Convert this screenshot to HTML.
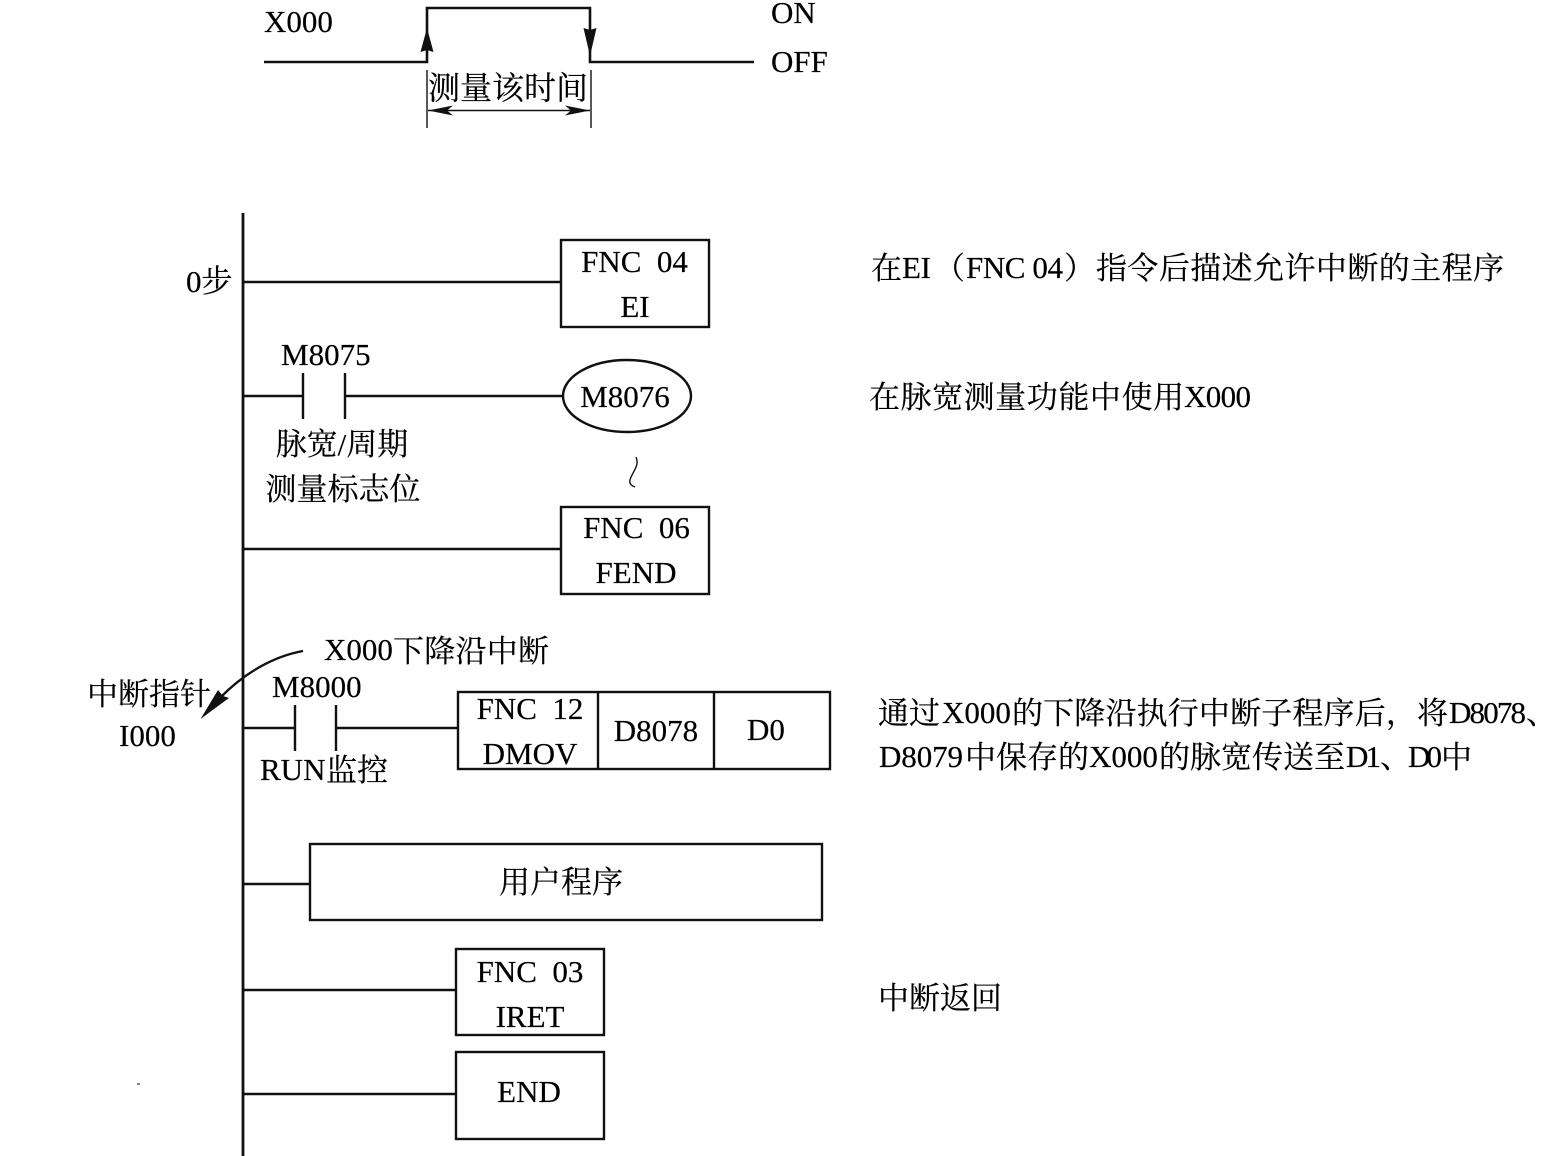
<!DOCTYPE html>
<html><head><meta charset="utf-8"><style>
html,body{margin:0;padding:0;background:#fff;width:1542px;height:1156px;overflow:hidden}
svg{display:block}
text{font-family:"Liberation Serif","Noto Serif CJK SC",serif;font-size:31px;fill:#000;stroke:#000;stroke-width:.2}
.m{text-anchor:middle}
line,rect,path,ellipse{stroke:#111;fill:none;stroke-width:2.4}
.f{fill:#111;stroke:none}
.t{stroke-width:1.4}
</style></head><body>
<svg width="1542" height="1156" viewBox="0 0 1542 1156">
<path d="M264 62H427V8H590V62H754" style="stroke-width:2.6"/>
<path class="f" d="M427 28L433.500 52L427 50L420.500 52Z M590 56L583.500 28L590 30L596.500 28Z"/>
<path class="t" d="M427 70V128M591 70V128M428 110.500H590"/>
<path class="f" d="M428 110.500L453 105.500L447 110.500L453 115.500Z M590 110.500L565 105.500L571 110.500L565 115.500Z"/>
<text x="264" y="32">X000</text>
<text x="771" y="23">ON</text>
<text x="771" y="72">OFF</text>
<text x="508" y="99" class="m" style="font-size:32px">测量该时间</text>

<line x1="243" y1="213" x2="243" y2="1156" style="stroke-width:2.8"/>
<text x="186" y="292">0步</text>
<line x1="243" y1="282" x2="561" y2="282"/>
<rect x="561" y="240" width="148" height="87"/>
<text x="634.500" y="272" class="m">FNC&#160;&#160;04</text>
<text x="635" y="317" class="m">EI</text>
<text x="871" y="279">在</text>
<text x="902" y="278" textLength="29">EI</text>
<text x="934" y="279">（</text>
<text x="966" y="278" textLength="97">FNC 04</text>
<text x="1064" y="279">）</text>
<text x="1096" y="279" textLength="408">指令后描述允许中断的主程序</text>

<text x="281" y="365">M8075</text>
<path d="M243 396H303M345 396H563M303 373V419M345 373V419"/>
<ellipse cx="627" cy="396" rx="64" ry="36"/>
<text x="625" y="407" class="m">M8076</text>
<text x="342" y="455" class="m">脉宽/周期</text>
<text x="343" y="500" class="m">测量标志位</text>
<text x="869" y="408" textLength="315">在脉宽测量功能中使用</text>
<text x="1184" y="407" textLength="67">X000</text>
<path class="t" d="M636 457C640 466 632 472 630 480C629 484 632 486 635 487"/>

<line x1="243" y1="549" x2="561" y2="549"/>
<rect x="561" y="507" width="148" height="87"/>
<text x="636.500" y="538" class="m">FNC&#160;&#160;06</text>
<text x="636" y="583" class="m">FEND</text>

<text x="324" y="660">X000</text>
<text x="393" y="662" textLength="156">下降沿中断</text>
<path d="M303 651C275 656 245 672 220 698"/>
<path class="f" d="M200.500 719L218 690L223 696L229 698Z"/>
<text x="87" y="705">中断指针</text>
<text x="119" y="746">I000</text>
<text x="272" y="697">M8000</text>
<path d="M243 728H295M336 728H458M295 705V751M336 705V751"/>
<text x="260" y="780">RUN</text>
<text x="326" y="781">监控</text>
<rect x="458" y="692" width="372" height="77"/>
<line x1="598" y1="692" x2="598" y2="769"/>
<line x1="714" y1="692" x2="714" y2="769"/>
<text x="530" y="719" class="m">FNC&#160;&#160;12</text>
<text x="530" y="764" class="m">DMOV</text>
<text x="656" y="741" class="m">D8078</text>
<text x="766" y="740" class="m">D0</text>
<text x="878" y="724">通过</text>
<text x="942" y="723">X000</text>
<text x="1012" y="724" textLength="436">的下降沿执行中断子程序后，将</text>
<text x="1449" y="723" textLength="77">D8078</text>
<text x="1526" y="724">、</text>
<text x="879" y="767" textLength="84">D8079</text>
<text x="965" y="768">中保存的</text>
<text x="1089" y="767">X000</text>
<text x="1159" y="768">的脉宽传送至</text>
<text x="1346" y="767" textLength="35">D1</text>
<text x="1380" y="768">、</text>
<text x="1408" y="767" textLength="34">D0</text>
<text x="1441" y="768">中</text>

<line x1="243" y1="884" x2="310" y2="884"/>
<rect x="310" y="844" width="512" height="76"/>
<text x="561" y="893" class="m">用户程序</text>

<line x1="243" y1="990" x2="456" y2="990"/>
<rect x="456" y="949" width="148" height="86"/>
<text x="530" y="982" class="m">FNC&#160;&#160;03</text>
<text x="530" y="1027" class="m">IRET</text>
<text x="878" y="1009">中断返回</text>

<line x1="243" y1="1094" x2="456" y2="1094"/>
<rect x="456" y="1052" width="148" height="87"/>
<text x="529" y="1102" class="m">END</text>
<line x1="137" y1="1084" x2="140" y2="1084" style="stroke-width:1"/>
</svg>
</body></html>
